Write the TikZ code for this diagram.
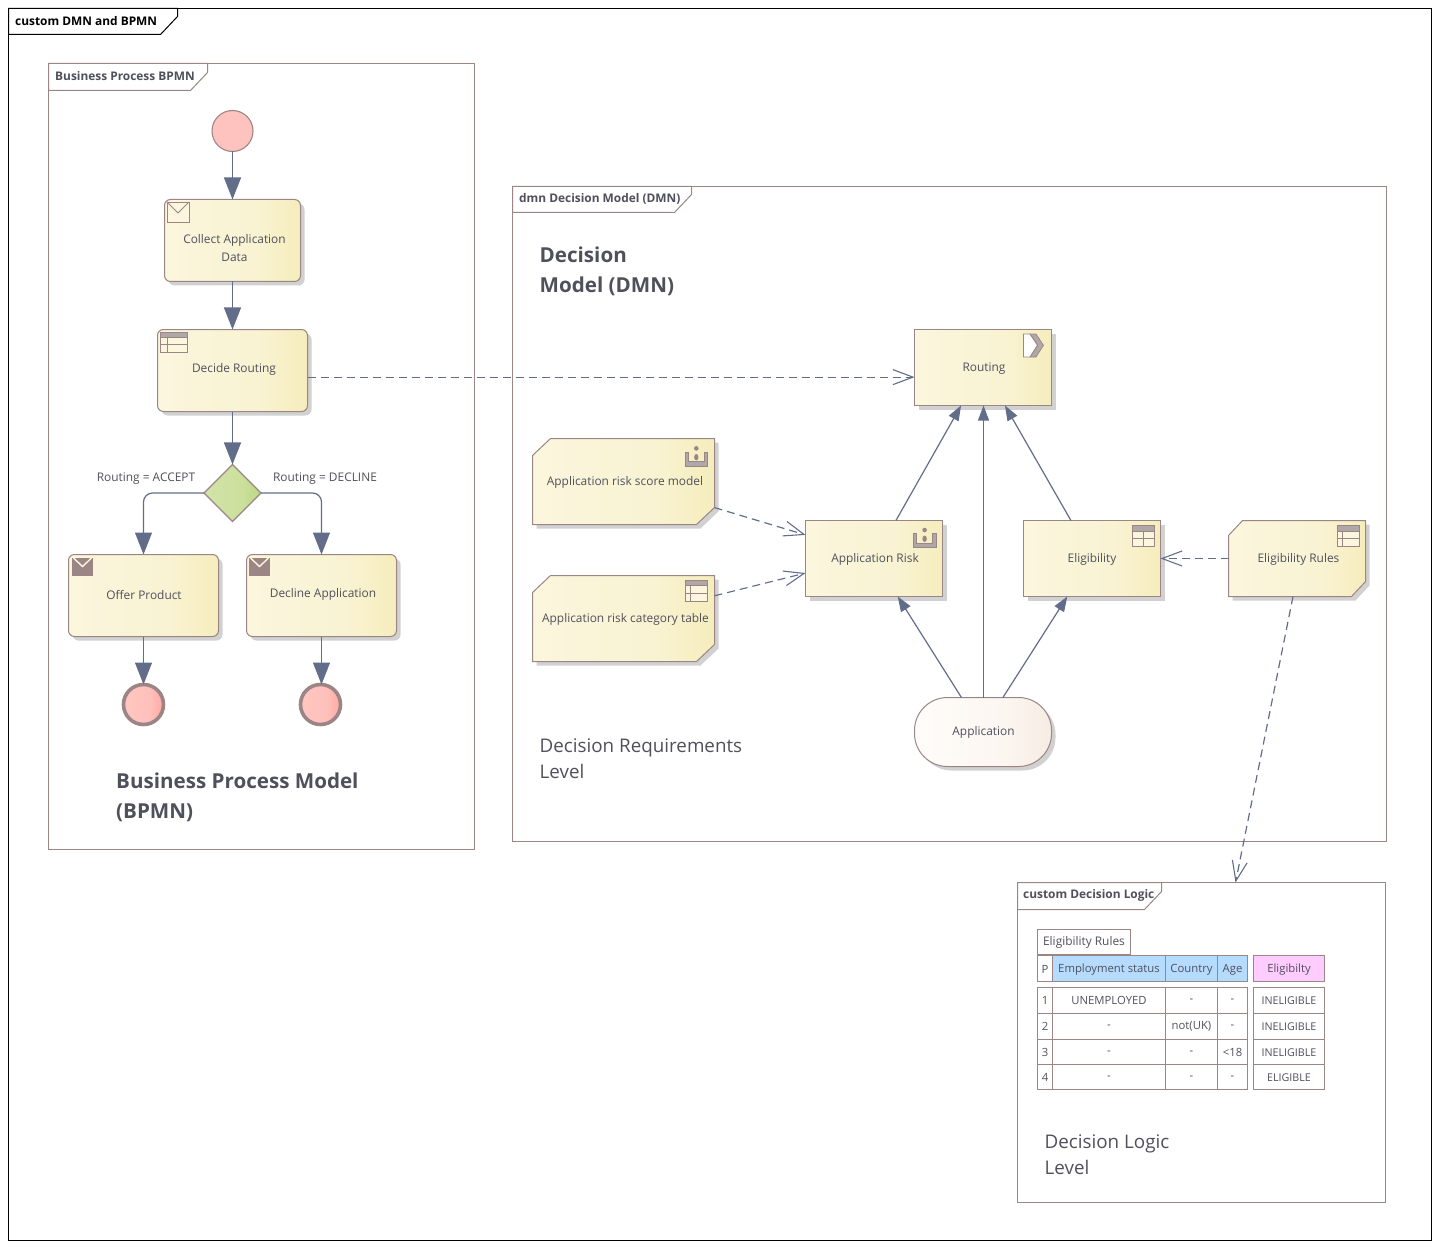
\documentclass[tikz,border=0pt]{standalone}
\usepackage{fontspec}
\setmainfont{Open Sans}
\usetikzlibrary{arrows.meta,shapes.geometric,shadows}
\definecolor{edgeC}{HTML}{9C8585}
\definecolor{flowC}{HTML}{626D8A}
\definecolor{txtC}{HTML}{50505C}
\definecolor{yelA}{HTML}{FBF6DD}
\definecolor{yelB}{HTML}{F9F3D3}
\definecolor{yelC}{HTML}{F5EDBC}
\definecolor{grnA}{HTML}{D2E3A8}
\definecolor{grnB}{HTML}{CCE09C}
\definecolor{grnC}{HTML}{BAD684}
\definecolor{redA}{HTML}{FFC6C0}
\definecolor{redB}{HTML}{FFC0BC}
\definecolor{redC}{HTML}{FFA9A2}
\definecolor{pnkA}{HTML}{FFFCF9}
\definecolor{pnkB}{HTML}{FCF6F1}
\definecolor{pnkC}{HTML}{F6ECE2}
\definecolor{iconG}{HTML}{B0A8A8}
\definecolor{tblue}{HTML}{B5DBFF}
\definecolor{tpink}{HTML}{FFCCFF}
\pgfdeclarehorizontalshading{yelS}{100bp}{color(0bp)=(yelA); color(25bp)=(yelA); color(58bp)=(yelB); color(75bp)=(yelC); color(100bp)=(yelC)}
\pgfdeclarehorizontalshading{grnS}{100bp}{color(0bp)=(grnA); color(25bp)=(grnA); color(58bp)=(grnB); color(75bp)=(grnC); color(100bp)=(grnC)}
\pgfdeclarehorizontalshading{redS}{100bp}{color(0bp)=(redA); color(25bp)=(redA); color(58bp)=(redB); color(75bp)=(redC); color(100bp)=(redC)}
\pgfdeclarehorizontalshading{pnkS}{100bp}{color(0bp)=(pnkA); color(25bp)=(pnkA); color(58bp)=(pnkB); color(75bp)=(pnkC); color(100bp)=(pnkC)}
\newcommand\notepoly[3]{%
  \path[box] ([xshift=#2pt]#1.north west) -- (#1.north east) -- ([yshift=#3pt]#1.south east) -- ([xshift=-#2pt]#1.south east) -- (#1.south west) -- ([yshift=-#3pt]#1.north west) -- cycle;
}
\tikzset{
  x=1pt,y=-1pt,
  shade3/.style={general shadow={shadow xshift=4pt,shadow yshift=-4pt,fill=black!18}},
  box/.style={draw=edgeC,line width=1pt,shade,shading=yelS,inner sep=0pt,outer sep=0pt,shade3},
  taskbox/.style={box,rectangle,rounded corners=6pt,minimum width=#1,minimum height=82pt},
  decbox/.style={box,rectangle,minimum width=137pt,minimum height=76pt},
  noteanchor/.style={rectangle,inner sep=0pt,outer sep=0pt,minimum width=#1},
  areaframe/.style={draw=edgeC,line width=1pt,rectangle,inner sep=0pt,outer sep=0pt},
  tabshape/.style={draw=edgeC,line width=1pt,fill=white},
  lbl/.style={text=txtC,font=\fontsize{11.9}{18}\selectfont,inner sep=0pt,align=center,yshift=-1.6pt},
  tabtxt/.style={text=txtC,font=\fontsize{11.9}{14}\selectfont\bfseries,inner sep=0pt,anchor=west,yshift=-.8pt},
  head/.style={text=txtC,font=\fontsize{20.6}{30}\selectfont\bfseries,inner sep=0pt,anchor=west,align=left,yshift=-1pt},
  sub/.style={text=txtC,font=\fontsize{18.8}{26}\selectfont,inner sep=0pt,anchor=west,align=left,yshift=-.5pt},
  flow/.style={draw=flowC,line width=1.2pt,-{Triangle[length=22pt,width=17pt]}},
  depends/.style={draw=flowC,line width=1.2pt,-{Triangle[length=15pt,width=11pt]}},
  dashlink/.style={draw=flowC,line width=1.2pt,dash pattern=on 8pt off 5pt,-{Straight Barb[length=20pt,width=15pt,line width=1.1pt]}},
  cellb/.style={draw=edgeC,line width=1.5pt},
  celltxt/.style={text=txtC,font=\fontsize{11.3}{14}\selectfont,inner sep=0pt,yshift=-.3pt},
  headtxt/.style={celltxt,yshift=-.8pt},
  celltight/.style={celltxt,font=\fontsize{10.7}{14}\selectfont},
  titletxt/.style={celltxt,font=\fontsize{11.9}{14}\selectfont},
  envopen/.pic={
    \draw[edgeC,line width=.9pt,fill=yelA] (0,0) rectangle (22,20);
    \draw[edgeC,line width=.9pt] (0,0) -- (11,11) -- (22,0);
  },
  envfull/.pic={
    \fill[edgeC] (0,0) rectangle (21,17.5);
    \draw[yelA,line width=1.4pt] (1.5,0) -- (10.5,8.5) -- (19.5,0);
  },
  tabgridA/.pic={
    \draw[edgeC,line width=.9pt,fill=yelA] (0,0) rectangle (22,21);
    \draw[edgeC,line width=.9pt,fill=iconG] (0,0) rectangle (22,5.5);
    \draw[edgeC,line width=.9pt] (0,13) -- (22,13) (5.5,5.5) -- (5.5,21);
  },
  tabgridB/.pic={
    \draw[edgeC,line width=.9pt,fill=yelA] (0,0) rectangle (22,21);
    \draw[edgeC,line width=.9pt,fill=iconG] (0,0) rectangle (22,5.5);
    \draw[edgeC,line width=.9pt] (0,13) -- (22,13) (11,5.5) -- (11,21);
  },
  tabgridC/.pic={
    \draw[edgeC,line width=.9pt,fill=yelA] (0,0) rectangle (26.5,19.5);
    \draw[edgeC,line width=.9pt,fill=iconG] (0,0) rectangle (26.5,4.5);
    \draw[edgeC,line width=.9pt] (0,12) -- (26.5,12) (7,4.5) -- (7,19.5);
  },
  knowicon/.pic={
    \fill[edgeC] (11.3,2.7) circle (2.3);
    \fill[edgeC] (11.3,11.5) ellipse (2.2 and 3.2);
    \fill[iconG,draw=edgeC,line width=.8pt] (0,6.5) -- (3.5,6.5) -- (3.5,16) -- (19.2,16) -- (19.2,6.5) -- (22.7,6.5) -- (22.7,20.2) -- (0,20.2) -- cycle;
  },
  chevicon/.pic={
    \fill[iconG,draw=edgeC,line width=.7pt] (6.5,0) -- (12.5,0) -- (20,11.3) -- (12.5,23) -- (6.5,23) -- (14,11.3) -- cycle;
    \draw[edgeC,line width=.9pt,fill=white] (0,0) -- (6.5,0) -- (14,11.3) -- (6.5,23) -- (0,23) -- cycle;
  },
}
\begin{document}
\begin{tikzpicture}
\useasboundingbox (0,0) rectangle (1440,1249);
% outer frame
\node[draw=black,line width=1pt,rectangle,inner sep=0pt,outer sep=0pt,minimum width=1423pt,minimum height=1232pt] (outer) at (720,624.5) {};
\draw[draw=black,line width=1pt,fill=white] (8.5,8.5) -- (177.5,8.5) -- (177.5,16.5) -- (160.5,34.5) -- (8.5,34.5) -- cycle;
\node[tabtxt,text=black] (outerT) at (15,20.5) {custom DMN and BPMN};
% frames
\node[areaframe,minimum width=426pt,minimum height=786pt] (fBpmn) at (261.5,456.5) {};
\draw[tabshape] (48.5,63.5) -- (207.5,63.5) -- (207.5,72.5) -- (190.5,90.5) -- (48.5,90.5) -- cycle;
\node[tabtxt] (fBpmnT) at (55,75.5) {Business Process BPMN};
\node[areaframe,minimum width=874pt,minimum height=655pt] (fDmn) at (949.5,514) {};
\draw[tabshape] (512.5,186.5) -- (691.5,186.5) -- (691.5,194.5) -- (674.5,212.5) -- (512.5,212.5) -- cycle;
\node[tabtxt] (fDmnT) at (519,198.5) {dmn Decision Model (DMN)};
\node[areaframe,minimum width=368pt,minimum height=320pt] (fLogic) at (1201.5,1042.5) {};
\draw[tabshape] (1017.5,882.5) -- (1161.5,882.5) -- (1161.5,891.5) -- (1144.5,909.5) -- (1017.5,909.5) -- cycle;
\node[tabtxt] (fLogicT) at (1023,894.5) {custom Decision Logic};
% headings
\node[head] (hDmn) at (539.5,270) {Decision\\Model (DMN)};
\node[head] (hBpmn) at (116,796) {Business Process Model\\(BPMN)};
\node[sub] (hReq) at (539.5,758) {Decision Requirements\\Level};
\node[sub] (hLog) at (1044.5,1154) {Decision Logic\\Level};
% BPMN nodes
\node[circle,draw=edgeC,line width=1.1pt,outer sep=0pt,fill=redB!95!white,minimum size=41pt,inner sep=0pt] (start) at (232.5,131) {};
\node[taskbox=136pt] (collect) at (232.5,240.5) {};
\node[taskbox=150pt] (decide) at (232.5,370.5) {};
\node[diamond,aspect=1,draw=edgeC,line width=1.1pt,outer sep=0pt,shade,shading=grnS,minimum size=57pt,inner sep=0pt] (gw) at (232.5,493) {};
\node[taskbox=150pt] (offer) at (143.5,595.5) {};
\node[taskbox=150pt] (decline) at (321.5,595.5) {};
\node[circle,draw=edgeC,line width=3.6pt,shade,shading=redS,minimum size=40pt,inner sep=0pt,outer sep=0pt] (endA) at (143.5,704.5) {};
\node[circle,draw=edgeC,line width=3.6pt,shade,shading=redS,minimum size=40pt,inner sep=0pt,outer sep=0pt] (endB) at (320.5,704.5) {};
\node[lbl] (collectL) at (234.5,246.5) {Collect Application\\[0pt]Data};
\node[lbl] (decideL) at (234,368) {Decide Routing};
\node[lbl] (offerL) at (144,593) {Offer Product};
\node[lbl] (declineL) at (323,593) {Decline Application};
\node[lbl] (accL) at (146,477) {Routing = ACCEPT};
\node[lbl] (decL) at (325,477) {Routing = DECLINE};
\pic at (167,202) {envopen};
\pic at (160.5,332.5) {tabgridC};
\pic at (72,558) {envfull};
\pic at (249,558) {envfull};
% DMN nodes
\node[decbox] (routing) at (983,367.5) {};
\node[decbox] (risk) at (874,558.5) {};
\node[decbox] (elig) at (1092,558.5) {};
\node[box,rectangle,rounded corners=33pt,shading=pnkS,minimum width=137pt,minimum height=69pt] (appl) at (983,732) {};
\node[noteanchor=182pt,minimum height=86pt] (score) at (623.5,481.5) {};
\node[noteanchor=182pt,minimum height=86pt] (cat) at (623.5,618.5) {};
\node[noteanchor=137pt,minimum height=76pt] (rules) at (1297,558.5) {};
\notepoly{score}{18}{17}
\notepoly{cat}{18}{17}
\notepoly{rules}{14}{15}
\node[lbl] (routingL) at (984,367) {Routing};
\node[lbl] (riskL) at (875,558) {Application Risk};
\node[lbl] (eligL) at (1092,558) {Eligibility};
\node[lbl] (applL) at (983.5,731) {Application};
\node[lbl] (scoreL) at (625,481) {Application risk score model};
\node[lbl] (catL) at (625.5,618) {Application risk category table};
\node[lbl] (rulesL) at (1298.5,558) {Eligibility Rules};
\pic at (1023.5,334) {chevicon};
\pic at (685,445.7) {knowicon};
\pic at (913.3,527.3) {knowicon};
\pic at (685,580) {tabgridA};
\pic at (1132,525.5) {tabgridB};
\pic at (1337,525.5) {tabgridA};
% connectors BPMN
\draw[flow] (start) -- (collect);
\draw[flow] (collect) -- (decide);
\draw[flow] (decide) -- (gw);
\draw[flow,rounded corners=9pt] (gw.west) -| (offer.north);
\draw[flow,rounded corners=9pt] (gw.east) -| (decline.north);
\draw[flow] (offer) -- (endA);
\draw[flow] (decline.south) -- (decline.south |- endB.north);
% connectors DMN
\draw[depends] (risk.60.3) -- (routing.240);
\draw[depends] ([xshift=.5pt]appl.north) -- ([xshift=.5pt]routing.south);
\draw[depends] (elig.119.7) -- (routing.300);
\draw[depends] (appl.122) -- (risk.-58.6);
\draw[depends] (appl.60.3) -- (elig.237);
\draw[dashlink] (decide.east |- routing.188.3) -- (routing.188.3);
\draw[dashlink] (score.-16.2) -- (risk.161.94);
\draw[dashlink] (cat.14.5) -- (risk.192.66);
\draw[dashlink] (rules.west) -- (elig.east);
\draw[dashlink] (rules.264.8) -- (fLogic.78.14);
% decision table
\draw[cellb] (1037.5,929.5) rectangle (1130.5,954.5) node[pos=.5,titletxt] (tT) {Eligibility Rules};
\foreach \xa/\xb/\t/\c in {1037.5/1052.5/P/white,1052.5/1165.5/Employment status/tblue,1165.5/1217.5/Country/tblue,1217.5/1247.5/Age/tblue,1253.5/1324.5/Eligibilty/tpink}{
  \draw[cellb,fill=\c] (\xa,955.5) rectangle (\xb,981.5) node[pos=.5,headtxt] {\t};
}
\foreach \ya/\yb/\a/\b/\cc/\d/\e in {987.5/1013.5/1/UNEMPLOYED/-/-/INELIGIBLE,1013.5/1039.5/2/-/not(UK)/-/INELIGIBLE,1039.5/1064.5/3/-/-/{<18}/INELIGIBLE,1064.5/1089.5/4/-/-/-/ELIGIBLE}{
  \draw[cellb] (1037.5,\ya) rectangle (1052.5,\yb) node[pos=.5,celltxt] {\a};
  \draw[cellb] (1052.5,\ya) rectangle (1165.5,\yb) node[pos=.5,celltxt] {\b};
  \draw[cellb] (1165.5,\ya) rectangle (1217.5,\yb) node[pos=.5,celltxt] {\cc};
  \draw[cellb] (1217.5,\ya) rectangle (1247.5,\yb) node[pos=.5,celltxt] {\d};
  \draw[cellb] (1253.5,\ya) rectangle (1324.5,\yb) node[pos=.5,celltight] {\e};
}
\end{tikzpicture}
\end{document}
